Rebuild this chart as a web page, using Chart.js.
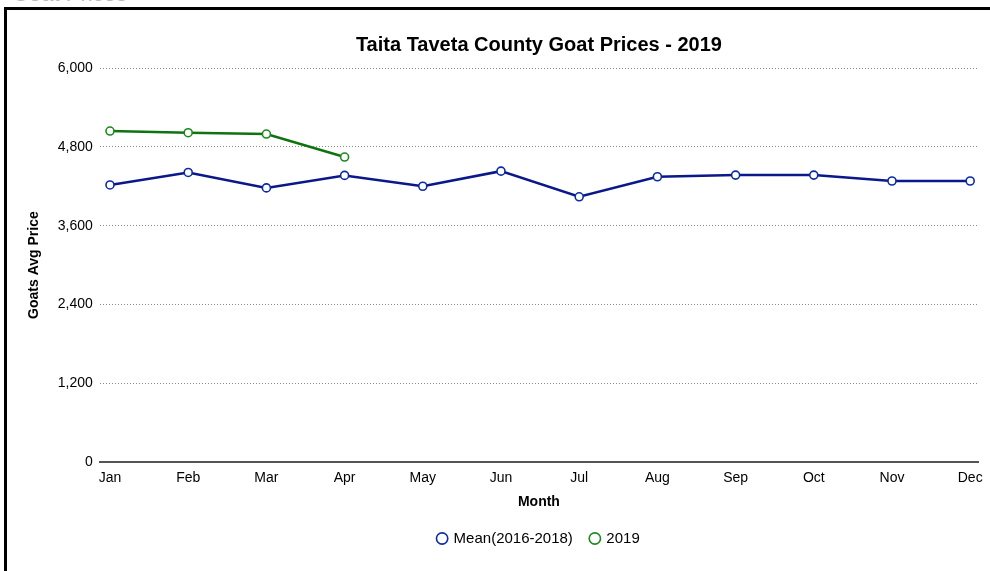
<!DOCTYPE html>
<html>
<head>
<meta charset="utf-8">
<script src="https://cdn.jsdelivr.net/npm/chart.js@4"></script>
<style>
  html, body { margin: 0; padding: 0; background: #fff; width: 990px; height: 571px; overflow: hidden; }
  .cut { position: absolute; left: 12px; top: -19px; font: 22px "Liberation Sans", Arial, sans-serif; color: #bbb; }
  .frame { position: absolute; left: 4px; top: 7px; width: 986px; height: 564px; border-left: 3px solid #000; border-top: 3px solid #000; }
  .wrap { position: absolute; left: 3px; top: 3px; width: 983px; height: 561px; }
</style>
</head>
<body>
<div class="cut">Goat Prices</div>
<div class="frame">
  <div class="wrap"><canvas id="goatChart"></canvas></div>
</div>
<script>
// Monthly goat prices, Taita Taveta County
const months = ['Jan', 'Feb', 'Mar', 'Apr', 'May', 'Jun', 'Jul', 'Aug', 'Sep', 'Oct', 'Nov', 'Dec'];
const meanPrices = [4220, 4410, 4175, 4365, 4200, 4430, 4040, 4345, 4370, 4370, 4280, 4280];
const prices2019 = [5040, 5015, 4995, 4645];
const yTicks = [0, 1200, 2400, 3600, 4800, 6000];

const toPoints = arr => arr.map((v, i) => ({ x: i, y: v }));

Chart.defaults.font.family = '"Liberation Sans", Arial, sans-serif';
Chart.defaults.color = '#000';

const ctx = document.getElementById('goatChart').getContext('2d');
new Chart(ctx, {
    type: 'line',
    data: {
        datasets: [{
            label: 'Mean(2016-2018)',
            data: toPoints(meanPrices),
            borderColor: '#0a188a',
            backgroundColor: '#fff',
            pointBorderColor: '#0b2aa8',
            pointBackgroundColor: '#fff',
            borderWidth: 2.5,
            pointRadius: 4,
            pointBorderWidth: 1.6,
            tension: 0
        }, {
            label: '2019',
            data: toPoints(prices2019),
            borderColor: '#0f730f',
            backgroundColor: '#fff',
            pointBorderColor: '#1a8a1a',
            pointBackgroundColor: '#fff',
            borderWidth: 2.5,
            pointRadius: 4,
            pointBorderWidth: 1.6,
            tension: 0
        }]
    },
    options: {
        responsive: true,
        maintainAspectRatio: false,
        animation: false,
        layout: { padding: { left: 12, right: 15, top: 10, bottom: 18 } },
        plugins: {
            title: {
                display: true,
                text: 'Taita Taveta County Goat Prices - 2019',
                fullSize: false,
                font: { size: 20, weight: 'bold' },
                padding: { top: 10, bottom: 11 }
            },
            legend: {
                position: 'bottom',
                fullSize: false,
                labels: {
                    usePointStyle: true,
                    pointStyle: 'circle',
                    boxWidth: 8,
                    boxHeight: 8,
                    padding: 18,
                    font: { size: 15 }
                }
            },
            tooltip: { enabled: false }
        },
        scales: {
            x: {
                type: 'linear',
                min: -0.13,
                max: 11.1,
                afterBuildTicks: axis => { axis.ticks = months.map((m, i) => ({ value: i })); },
                ticks: {
                    callback: v => months[v],
                    font: { size: 14 },
                    padding: 8,
                    maxRotation: 0
                },
                grid: { display: false, drawTicks: false },
                border: { display: true, color: '#555', width: 2 },
                title: { display: true, text: 'Month', font: { size: 14, weight: 'bold', lineHeight: 1 }, padding: { top: 0 } }
            },
            y: {
                min: 0,
                max: 6000,
                afterBuildTicks: axis => { axis.ticks = yTicks.map(v => ({ value: v })); },
                ticks: {
                    font: { size: 14 },
                    padding: 7,
                    callback: v => v.toLocaleString('en-US')
                },
                grid: { color: '#888', lineWidth: 1, drawTicks: false },
                border: { display: false, dash: [1, 2] },
                title: { display: true, text: 'Goats Avg Price', font: { size: 14, weight: 'bold' }, padding: { bottom: 8 } }
            }
        }
    }
});
</script>
</body>
</html>
